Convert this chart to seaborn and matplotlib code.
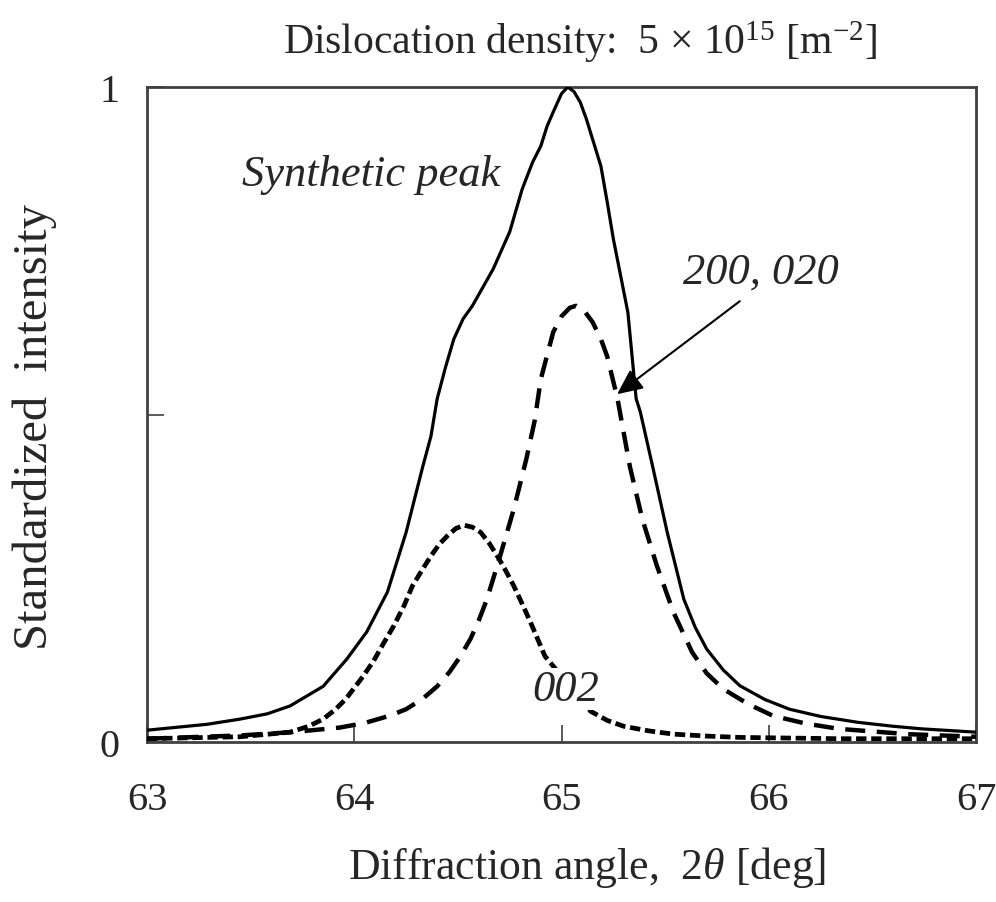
import numpy as np
import pandas as pd
import matplotlib
matplotlib.use("Agg")
import matplotlib.pyplot as plt
import seaborn as sns

# ---- data ----
synth_x = [63.0, 63.29, 63.45, 63.58, 63.69, 63.85, 63.965, 64.06, 64.16, 64.25, 64.33,
           64.37, 64.40, 64.44, 64.48, 64.525, 64.57, 64.62, 64.67, 64.75, 64.81, 64.86,
           64.90, 64.93, 64.96, 65.0, 65.03, 65.06, 65.09, 65.12, 65.155, 65.19, 65.22,
           65.25, 65.285, 65.32, 65.36, 65.38, 65.44, 65.51, 65.59, 65.645, 65.70, 65.78,
           65.86, 65.98, 66.10, 66.25, 66.43, 66.6, 66.74, 67.0]
synth_y = [0.018, 0.027, 0.035, 0.043, 0.055, 0.085, 0.127, 0.168, 0.229, 0.32, 0.42,
           0.467, 0.524, 0.572, 0.615, 0.646, 0.666, 0.694, 0.722, 0.779, 0.844, 0.885,
           0.91, 0.94, 0.962, 0.99, 1.0, 0.993, 0.977, 0.951, 0.915, 0.879, 0.825,
           0.768, 0.712, 0.656, 0.524, 0.504, 0.42, 0.32, 0.218, 0.175, 0.142, 0.11,
           0.086, 0.065, 0.05, 0.039, 0.03, 0.024, 0.02, 0.015]

p200_x = [63.0, 63.45, 63.7, 63.93, 64.05, 64.17, 64.25, 64.33, 64.40, 64.46, 64.51,
          64.56, 64.60, 64.64, 64.70, 64.77, 64.83, 64.87, 64.90, 64.93, 64.96, 65.0,
          65.04, 65.07, 65.11, 65.15, 65.19, 65.22, 65.27, 65.33, 65.39, 65.46, 65.54,
          65.63, 65.70, 65.78, 65.9, 66.02, 66.18, 66.34, 66.67, 67.0]
p200_y = [0.005, 0.01, 0.015, 0.022, 0.029, 0.04, 0.05, 0.066, 0.085, 0.107, 0.13,
          0.157, 0.185, 0.218, 0.28, 0.356, 0.432, 0.49, 0.554, 0.59, 0.626, 0.65,
          0.663, 0.666, 0.658, 0.641, 0.615, 0.589, 0.524, 0.42, 0.34, 0.269, 0.198,
          0.137, 0.105, 0.081, 0.058, 0.04, 0.028, 0.02, 0.012, 0.008]

p002_x = [63.0, 63.45, 63.69, 63.78, 63.85, 63.91, 63.96, 64.03, 64.09, 64.14, 64.19,
          64.24, 64.28, 64.33, 64.37, 64.41, 64.45, 64.49, 64.53, 64.57, 64.61, 64.65,
          64.69, 64.73, 64.77, 64.81, 64.85, 64.92, 65.14, 65.22, 65.30, 65.42, 65.54,
          65.7, 65.86, 66.34, 67.0]
p002_y = [0.005, 0.008, 0.015, 0.024, 0.035, 0.05, 0.066, 0.095, 0.122, 0.15, 0.177,
          0.208, 0.238, 0.264, 0.284, 0.302, 0.315, 0.326, 0.331, 0.328, 0.32, 0.304,
          0.284, 0.262, 0.238, 0.211, 0.183, 0.131, 0.047, 0.033, 0.024, 0.017, 0.012,
          0.009, 0.007, 0.005, 0.005]

x_ticks = [63, 64, 65, 66, 67]
y_ticks = [0, 0.5, 1]
y_tick_labels = ["0", "", "1"]

sns.set_theme(style="white")
plt.rcParams["font.family"] = ["Liberation Serif", "DejaVu Serif"]
plt.rcParams["mathtext.fontset"] = "custom"
plt.rcParams["mathtext.rm"] = "Liberation Serif"
plt.rcParams["mathtext.it"] = "Liberation Serif:italic"

fig = plt.figure(figsize=(9.96, 9.03), dpi=100)
ax = fig.add_axes([0.1476, 0.1772, 0.8324, 0.7253])

df_s = pd.DataFrame({"x": synth_x, "y": synth_y})
df_a = pd.DataFrame({"x": p200_x, "y": p200_y})
df_b = pd.DataFrame({"x": p002_x, "y": p002_y})

sns.lineplot(data=df_s, x="x", y="y", ax=ax, color="black", lw=2.3,
             estimator=None, sort=False, zorder=3)
sns.lineplot(data=df_a, x="x", y="y", ax=ax, color="black", lw=3.2,
             linestyle=(0, (4.5, 2.6)), estimator=None, sort=False, zorder=3)
sns.lineplot(data=df_b, x="x", y="y", ax=ax, color="black", lw=3.4,
             linestyle=(0, (2.2, 1.0)), estimator=None, sort=False, zorder=3)

ax.set_xlim(63, 67)
ax.set_ylim(0, 1)
ax.set_xticks(x_ticks)
ax.set_xticklabels([str(t) for t in x_ticks])
ax.set_yticks(y_ticks)
ax.set_yticklabels(y_tick_labels)
ax.tick_params(axis="x", direction="in", length=12, width=1.2, color="#404040",
               labelsize=29, pad=28, bottom=True)
ax.tick_params(axis="y", direction="in", length=12, width=1.2, color="#404040",
               labelsize=29, pad=20, left=True)
for s in ax.spines.values():
    s.set_color("#404040")
    s.set_linewidth(2.0)

ax.set_xlabel(r"Diffraction angle,  2$\it{\theta}$ [deg]", fontsize=31.5)
ax.xaxis.set_label_coords(0.531, -0.155)
ax.set_ylabel("Standardized  intensity", fontsize=35)
ax.yaxis.set_label_coords(-0.108, 0.482)

fig.text(0.582, 0.953, r"Dislocation density:  5 × 10$^{15}$ [m$^{\mathrm{-2}}$]",
         fontsize=30, ha="center", va="center")

ax.text(64.08, 0.867, "Synthetic peak", fontsize=32, style="italic", ha="center", va="center")
ax.text(65.96, 0.719, "200, 020", fontsize=32, style="italic", ha="center", va="center")
ax.text(65.02, 0.081, "002", fontsize=32, style="italic", ha="center", va="center",
        zorder=5, bbox=dict(facecolor="white", edgecolor="none", pad=1.0))
ax.annotate("", xy=(65.268, 0.531), xytext=(65.86, 0.673),
            arrowprops=dict(arrowstyle="-|>,head_length=1.3,head_width=0.6",
                            color="black", lw=1.5, shrinkA=0, shrinkB=0), zorder=6)

fig.savefig("out.png", dpi=100)
